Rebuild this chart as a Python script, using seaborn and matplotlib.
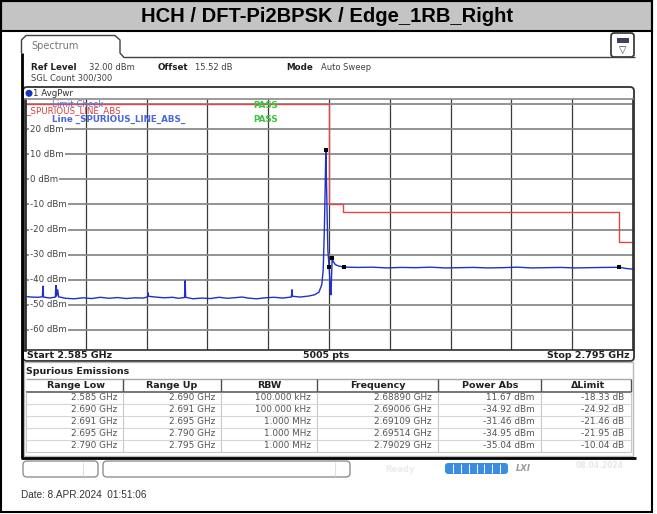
import numpy as np
import matplotlib
matplotlib.use("Agg")
import matplotlib.pyplot as plt
from matplotlib.patches import FancyBboxPatch, Rectangle, Circle
import seaborn as sns

# ---------------- data ----------------
title = "HCH / DFT-Pi2BPSK / Edge_1RB_Right"

# spectrum trace (GHz, dBm)
trace_freq = [2.5850, 2.5870, 2.5895, 2.5910, 2.5912, 2.5914, 2.5935, 2.5955, 2.5957, 2.5959,
              2.5963, 2.5966, 2.5990, 2.6020, 2.6050, 2.6080, 2.6110, 2.6140, 2.6170, 2.6200,
              2.6230, 2.6260, 2.6273, 2.6275, 2.6277, 2.6300, 2.6330, 2.6360, 2.6380, 2.6401,
              2.6403, 2.6405, 2.6430, 2.6460, 2.6490, 2.6520, 2.6550, 2.6580, 2.6600, 2.6620,
              2.6650, 2.6680, 2.6710, 2.6740, 2.6770, 2.6772, 2.6774, 2.6800, 2.6830, 2.6850,
              2.6865, 2.6875, 2.6880, 2.6884, 2.6887, 2.68890, 2.6892, 2.6896, 2.6899, 2.69006,
              2.6905, 2.6907, 2.6909, 2.69109, 2.6915, 2.6922, 2.6935, 2.69514, 2.7000, 2.7050,
              2.7100, 2.7150, 2.7200, 2.7250, 2.7300, 2.7350, 2.7400, 2.7450, 2.7500, 2.7550,
              2.7600, 2.7650, 2.7700, 2.7750, 2.7800, 2.7850, 2.79029, 2.7925, 2.7950]
trace_dbm = [-46.6, -46.9, -47.0, -46.8, -42.6, -46.9, -47.3, -46.9, -40.4, -46.5,
             -44.0, -46.8, -47.4, -47.6, -47.2, -47.5, -47.0, -47.4, -47.1, -47.5,
             -47.2, -47.3, -46.8, -45.2, -46.6, -46.9, -47.2, -47.0, -47.4, -47.1,
             -40.4, -47.0, -47.6, -47.3, -47.5, -47.0, -47.4, -47.1, -46.9, -47.3,
             -47.6, -47.2, -47.0, -47.3, -46.9, -44.0, -46.6, -46.9, -46.5, -46.0,
             -45.0, -42.0, -36.0, -20.0, -2.0, 11.67, -5.0, -28.0, -33.0, -34.92,
             -44.5, -46.0, -38.0, -31.46, -32.8, -34.0, -34.6, -34.95, -35.1, -35.0,
             -35.3, -35.1, -35.2, -35.0, -35.3, -35.2, -35.1, -35.3, -35.2, -35.0,
             -35.3, -35.2, -35.1, -35.3, -35.2, -35.1, -35.04, -35.5, -35.8]

# limit line (steps)
limit_freq = [2.585, 2.690, 2.695, 2.790, 2.795]
limit_dbm = [30, -10, -13, -25, -25]

# spurious emissions table
range_low = ["2.585 GHz", "2.690 GHz", "2.691 GHz", "2.695 GHz", "2.790 GHz"]
range_up = ["2.690 GHz", "2.691 GHz", "2.695 GHz", "2.790 GHz", "2.795 GHz"]
rbw = ["100.000 kHz", "100.000 kHz", "1.000 MHz", "1.000 MHz", "1.000 MHz"]
peak_freq = [2.68890, 2.69006, 2.69109, 2.69514, 2.79029]
power_abs = [11.67, -34.92, -31.46, -34.95, -35.04]
delta_limit = [-18.33, -24.92, -21.46, -21.95, -10.04]

y_labels = [20, 10, 0, -10, -20, -30, -40, -50, -60]

# ---------------- figure setup ----------------
sns.set_theme(style="white")
plt.rcParams['font.family'] = ['DejaVu Sans']

fig = plt.figure(figsize=(6.57, 5.14), dpi=100)
fig.patch.set_facecolor("white")

# overlay axes in pixel coordinates
bg = fig.add_axes([0, 0, 1, 1])
bg.set_xlim(0, 657)
bg.set_ylim(514, 0)
bg.axis("off")

def rbox(x0, y0, x1, y1, r=3, ec="#404040", fc="none", lw=1.0, z=1):
    bg.add_patch(FancyBboxPatch((x0, y0), x1 - x0, y1 - y0,
                                boxstyle=f"round,pad=0,rounding_size={r}",
                                ec=ec, fc=fc, lw=lw, zorder=z))

def hline(y, x0, x1, c="#404040", lw=1.0, z=2):
    bg.plot([x0, x1], [y, y], color=c, lw=lw, zorder=z, solid_capstyle="butt")

def vline(x, y0, y1, c="#404040", lw=1.0, z=2):
    bg.plot([x, x], [y0, y1], color=c, lw=lw, zorder=z, solid_capstyle="butt")

# title bar + outer frame
bg.add_patch(Rectangle((1, 1), 651, 30, fc="#c4c4c4", ec="black", lw=1.5, zorder=1))
bg.add_patch(Rectangle((1, 1), 651, 511, fc="none", ec="black", lw=1.5, zorder=3))
bg.text(327, 16.5, title, ha="center", va="center", fontsize=14.5, fontweight="bold",
        family="Liberation Sans", color="black")

# "Spectrum" tab
bg.plot([21.5, 21.5, 26, 115, 120, 120, 124, 635],
        [53, 40, 35.5, 35.5, 40, 53, 57.5, 57.5], color="#404040", lw=1, zorder=2)
bg.text(31, 46, "Spectrum", fontsize=7, color="#777777", va="center")
vline(21.5, 53, 458, c="black", lw=2)
hline(457.5, 20.5, 636, c="black", lw=2)

# icon top right
rbox(611, 33, 634, 57, r=3, ec="#303030", lw=1.2)
bg.add_patch(Rectangle((616.5, 38), 12, 4.5, fc="#404060", ec="none", zorder=3))
bg.text(622.5, 50, "\u25bd", ha="center", va="center", fontsize=7, color="#404040")

# header info
bg.text(31, 67, "Ref Level", fontsize=6.3, fontweight="bold", va="center", color="#202020")
bg.text(89, 67, "32.00 dBm", fontsize=6.0, va="center", color="#404040")
bg.text(158, 67, "Offset", fontsize=6.3, fontweight="bold", va="center", color="#202020")
bg.text(195, 67, "15.52 dB", fontsize=6.0, va="center", color="#404040")
bg.text(286, 67, "Mode", fontsize=6.3, fontweight="bold", va="center", color="#202020")
bg.text(321, 67, "Auto Sweep", fontsize=6.0, va="center", color="#404040")
bg.text(31, 78, "SGL Count 300/300", fontsize=6.0, va="center", color="#404040")

# graph box
rbox(23, 87, 634, 361, r=4, ec="#303030", lw=1.3)
bg.add_patch(Circle((29, 93.3), 2.8, color="#1c2fc0", zorder=3))
bg.text(33, 93.5, "1 AvgPwr", fontsize=6.2, va="center", color="#303030")
bg.text(27, 355.5, "Start 2.585 GHz", fontsize=6.8, fontweight="bold", va="center", color="#202020")
bg.text(326, 355.5, "5005 pts", fontsize=6.8, fontweight="bold", va="center", ha="center", color="#202020")
bg.text(630, 355.5, "Stop 2.795 GHz", fontsize=6.8, fontweight="bold", va="center", ha="right", color="#202020")

# ---------------- spectrum plot ----------------
W, H = 657, 514
ax = fig.add_axes([25 / W, 1 - 350 / H, (633 - 25) / W, (350 - 99) / H])
ax.set_xlim(2.585, 2.795)
ax.set_ylim(-68, 32)
ax.set_xticks(np.linspace(2.585, 2.795, 11))
ax.set_yticks(list(range(-60, 31, 10)))
ax.set_xticklabels([])
ax.set_yticklabels([])
ax.tick_params(length=0)
ax.xaxis.grid(True, color="#3a3a3a", lw=0.9)
ax.yaxis.grid(True, color="#8a8a8a", lw=1.3)
ax.set_axisbelow(True)
for side, sp in ax.spines.items():
    sp.set_color("#303030")
    sp.set_linewidth(1.2)
    sp.set_zorder(8)
ax.spines["left"].set_linewidth(2)
ax.spines["top"].set_color("#8a8a8a")

ax.plot(limit_freq, limit_dbm, drawstyle="steps-post", color="#e04848", lw=1, zorder=3)
sns.lineplot(x=trace_freq, y=trace_dbm, ax=ax, color="#1f30c8", lw=1,
             estimator=None, sort=False, zorder=4)
sns.scatterplot(x=peak_freq, y=power_abs, ax=ax, marker="s", s=9, color="black",
                linewidth=0, zorder=5)
ax.set_xlabel("")
ax.set_ylabel("")

ytf = ax.get_yaxis_transform()
for v in y_labels:
    ax.text(0.008, v, f"{v} dBm", transform=ytf, fontsize=6.2, va="center", ha="left",
            color="#404040", zorder=6,
            bbox=dict(fc="white", ec="none", pad=0.8))

# limit check annotations (pixel positions; overlapping as on the instrument)
pt = bg.transData
ax.text(26, 110.5, "_SPURIOUS_LINE_ABS", transform=pt, fontsize=6.3, color="#e03c3c", va="center", zorder=7)
ax.text(52, 104.5, "Limit Check", transform=pt, fontsize=6.3, color="#5a70d8", va="center", zorder=7)
ax.text(52, 119, "Line _SPURIOUS_LINE_ABS_", transform=pt, fontsize=6.3, fontweight="bold",
        color="#4a68d8", va="center", zorder=7)
ax.text(253, 105.5, "PASS", transform=pt, fontsize=6.3, fontweight="bold", color="#3cc43c", va="center", zorder=7)
ax.text(253, 119.3, "PASS", transform=pt, fontsize=6.3, fontweight="bold", color="#3cc43c", va="center", zorder=7)

# ---------------- spurious emissions table ----------------
bg.add_patch(Rectangle((24, 362), 609, 94, fc="none", ec="#b8b8b8", lw=1, zorder=1))
bg.text(26, 371.5, "Spurious Emissions", fontsize=6.8, fontweight="bold", va="center", color="#202020")

col_sep = [123, 221, 317, 438, 541]
col_centers = [76, 172, 269, 378, 490, 588]
col_right = [117, 215, 311, 432, 535, 624]
headers = ["Range Low", "Range Up", "RBW", "Frequency", "Power Abs", "\u0394Limit"]
row_y = [398, 410, 422, 434, 446]

hline(379, 26, 631, c="#a8a8a8", lw=1)
hline(391.5, 26, 631, c="#606060", lw=1.2)
for x in col_sep:
    vline(x, 379, 391.5, c="#505050", lw=1)
    vline(x, 391.5, 452, c="#c8c8c8", lw=0.8)
vline(631, 379, 391.5, c="#505050", lw=1)
vline(26, 391.5, 452, c="#c8c8c8", lw=0.8)
vline(631, 391.5, 452, c="#c8c8c8", lw=0.8)
for y in row_y[:-1]:
    hline(y + 6, 26, 631, c="#d6d6d6", lw=0.8)
hline(452, 26, 631, c="#c8c8c8", lw=0.8)

for xc, h in zip(col_centers, headers):
    bg.text(xc, 385, h, ha="center", va="center", fontsize=6.8, fontweight="bold", color="#202020")

for i, y in enumerate(row_y):
    cells = [range_low[i], range_up[i], rbw[i], f"{peak_freq[i]:.5f} GHz",
             f"{power_abs[i]:.2f} dBm", f"{delta_limit[i]:.2f} dB"]
    for xr, s in zip(col_right, cells):
        bg.text(xr, y, s, ha="right", va="center", fontsize=6.4, color="#555555")

# ---------------- status bar ----------------
rbox(23, 461, 98, 477, r=4, ec="#909090", lw=1)
vline(83, 462, 476, c="#e0e0e0", lw=0.8)
rbox(103, 461, 350, 477, r=4, ec="#909090", lw=1)
vline(335, 462, 476, c="#e0e0e0", lw=0.8)
rbox(445, 463, 508, 474, r=3, ec="none", fc="#3a8ee2")
for k in range(1, 8):
    vline(445 + k * 63 / 8, 464, 473, c="white", lw=0.7, z=3)
bg.text(523, 468.5, "LXI", ha="center", va="center", fontsize=6, fontweight="bold",
        style="italic", color="#9a9a9a")
bg.text(400, 469, "Ready", ha="center", va="center", fontsize=6, fontweight="bold", color="#ececec")
bg.text(600, 466, "08.04.2024", ha="center", va="center", fontsize=5.5, fontweight="bold", color="#e8e8e8")

# date stamp
bg.text(21, 495, "Date: 8.APR.2024  01:51:06", fontsize=7.2, va="center",
        family="Liberation Sans", color="#333333")

fig.savefig("out.png", dpi=100, facecolor="white")
